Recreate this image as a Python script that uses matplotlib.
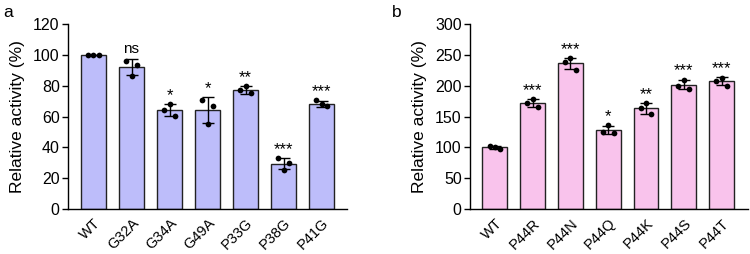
import numpy as np
import matplotlib.pyplot as plt

plt.rcParams['font.family'] = ['Liberation Sans', 'DejaVu Sans']

# panel a
labels_a = ["WT", "G32A", "G34A", "G49A", "P33G", "P38G", "P41G"]
points_a = [
    [100, 100, 100],
    [96, 86, 93.5],
    [64.5, 68, 60.5],
    [71, 55, 67],
    [77, 80, 75],
    [33, 25.5, 30],
    [70.5, 68, 66.5],
]
sig_a = ["", "ns", "*", "*", "**", "***", "***"]

# panel b
labels_b = ["WT", "P44R", "P44N", "P44Q", "P44K", "P44S", "P44T"]
points_b = [
    [102.5, 101, 97],
    [171.5, 178.5, 165.5],
    [238, 244.5, 226],
    [125.5, 135.5, 122.5],
    [164, 172, 154],
    [200, 210, 195],
    [208, 213, 200],
]
sig_b = ["", "***", "***", "*", "**", "***", "***"]


def panel(ax, labels, pts, sig, color, ymax, ystep, letter, xlim):
    pts = np.array(pts, dtype=float)
    mean = pts.mean(axis=1)
    sd = pts.std(axis=1, ddof=1)
    x = np.arange(len(labels))
    ax.bar(x, mean, width=0.66, color=color, edgecolor='#222222', linewidth=1.0, zorder=1)
    ax.errorbar(x, mean, yerr=sd, fmt='none', ecolor='black', elinewidth=1.0,
                capsize=4.5, capthick=1.0, zorder=3)
    offs = np.array([-0.14, 0.0, 0.14])
    for i in range(len(labels)):
        ax.scatter(x[i] + offs, pts[i], s=17, color='black', zorder=4, linewidths=0)
        if sig[i]:
            top = max(mean[i] + sd[i], pts[i].max())
            if sig[i] == "ns":
                ax.text(x[i], top + ymax * 0.02, sig[i], ha='center', va='bottom', fontsize=11)
            else:
                ax.text(x[i], top + ymax * 0.005, sig[i], ha='center', va='bottom', fontsize=12)
    ax.set_xlim(*xlim)
    ax.set_ylim(0, ymax)
    ax.set_yticks(np.arange(0, ymax + 1, ystep))
    ax.set_xticks(x)
    ax.set_xticklabels(labels, rotation=45, ha='right', rotation_mode='anchor', fontsize=10.5)
    ax.tick_params(axis='y', labelsize=11.5, length=4, width=1, pad=2)
    ax.tick_params(axis='x', length=0, pad=5)
    for s in ['top', 'right']:
        ax.spines[s].set_visible(False)
    for s in ['left', 'bottom']:
        ax.spines[s].set_linewidth(1)
    ax.set_ylabel("Relative activity (%)", fontsize=12.5, labelpad=6)
    ax.figure.text(letter[0], letter[1], letter[2], fontsize=12.5, ha='left', va='center')


fig = plt.figure(figsize=(7.5, 2.54), dpi=100)
ax1 = fig.add_axes([0.0907, 0.177, 0.372, 0.7285])
ax2 = fig.add_axes([0.6267, 0.177, 0.3706, 0.7285])

panel(ax1, labels_a, points_a, sig_a, '#BDBDFA', 120, 20, (0.005, 0.95, 'a'), (-0.67, 6.67))
panel(ax2, labels_b, points_b, sig_b, '#F9C3EC', 300, 50, (0.523, 0.95, 'b'), (-0.66, 6.7))

fig.savefig("out.png", dpi=100)
